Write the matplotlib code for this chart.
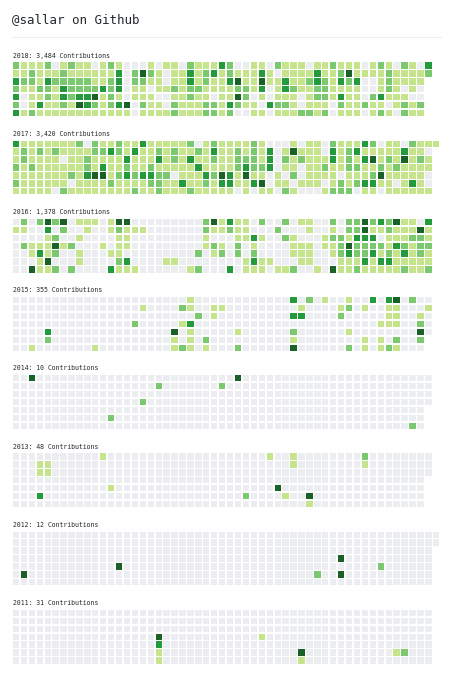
import matplotlib
matplotlib.use("Agg")
import matplotlib.pyplot as plt
from matplotlib.patches import Rectangle
from matplotlib.lines import Line2D

# ---------------- data ----------------
title = "@sallar on Github"
years = [2018, 2017, 2016, 2015, 2014, 2013, 2012, 2011]
totals = [3484, 3420, 1378, 355, 10, 48, 12, 31]
level_colors = ["#ebedf0", "#c6e48b", "#7bc96f", "#239a3b", "#196127"]

# contribution level per day (0-4), one string per weekday row, "." = no day
levels_2018 = [
    "211120121101210001011021113" "20011021110112111012102103",
    "112111211111130242101131231" "21113101111311241111211112",
    "322132222211230221101131211" "3411411311232132300121111.",
    "211221322223230110112122111" "1221301321122111100121010.",
    "301121323341210111001121101" "1420101110122131102311100.",
    "201311214321234021102111221" "3211032210111021121101212.",
    "312111111111111011112111221" "2001101112212011101210211.",
]
levels_2017 = [
    "311111112021121131111120121" "111210001011021113201102111",
    "121212111122321311212112131" "12121301411103123111113110.",
    "121111011211113111312131121" "12221302121113121341214121.",
    "212111111213112112111113111" "12322301101121122112121111.",
    "111111121344123233220111324" "31411010201111011124111110.",
    "211111101111211112211311213" "31134011011101212331101310.",
    "111110211111111211211121111" "10101102100012220110111111.",
]
levels_2016 = [
    "020242401110144000000000241" "31102002011002022423241103",
    "110030200100121110000000211" "21100020001001022411211141",
    "000012001000011000000000100" "01131002100012213330111221",
    "021114120001011000000000121" "02010000111011242222132122",
    "001312001000110000000002012" "02020000111001232231213121",
    "000140001000023000011000000" "00131100011000111313311111",
    "004112020000311100000012000" "30111011200104112111112112",
]
levels_2015 = [
    "0000000000" "0000000000" "0010000000" "0000030201" "0010030340" "200",
    "0000000000" "0000001000" "0210011000" "0000001000" "0120100110" "001",
    "0000000000" "0000000000" "0002010000" "0000033000" "0200000110" "010",
    "0000000000" "0000020000" "0130000000" "0000000000" "0000001110" "020",
    "0000300000" "0000000000" "4010000010" "0000020000" "0010000000" "040",
    "0000200000" "0000000000" "1010200000" "0000010000" "0000101020" "02.",
    "0010000000" "1000000000" "1210100020" "0000040000" "0020101210" "00.",
]
levels_2014 = [
    "0040000000" "0000000000" "0000000040" "0000000000" "0000000000" "000",
    "0000000000" "0000000020" "0000002000" "0000000000" "0000000000" "000",
    "0000000000" "0000000000" "0000000000" "0000000000" "0000000000" "000",
    "0000000000" "0000002000" "0000000000" "0000000000" "0000000000" "000",
    "0000000000" "0000000000" "0000000000" "0000000000" "0000000000" "00.",
    "0000000000" "0020000000" "0000000000" "0000000000" "0000000000" "00.",
    "0000000000" "0000000000" "0000000000" "0000000000" "0000000000" "20.",
]
levels_2013 = [
    "0000000000" "0100000000" "0000000000" "0010010000" "0000200000" "000",
    "0001100000" "0000000000" "0000000000" "0000010000" "0000100000" "000",
    "0001100000" "0000000000" "0000000000" "0000000000" "0000000000" "000",
    "0000000000" "0000000000" "0000000000" "0000000000" "0000000000" "00.",
    "0000000000" "0010000000" "0000000000" "0004000000" "0000000000" "00.",
    "0003000000" "0000000000" "0000000002" "0000100400" "0000000000" "00.",
    "0000000000" "0000000000" "0000000000" "0000000100" "0000000000" "00.",
]
levels_2012 = [
    "0000000000" "0000000000" "0000000000" "0000000000" "0000000000" "0000",
    "0000000000" "0000000000" "0000000000" "0000000000" "0000000000" "0000",
    "0000000000" "0000000000" "0000000000" "0000000000" "0000000000" "000.",
    "0000000000" "0000000000" "0000000000" "0000000000" "0400000000" "000.",
    "0000000000" "0004000000" "0000000000" "0000000000" "0000002000" "000.",
    "0400000000" "0000000000" "0000000000" "0000000020" "0400000000" "000.",
    "0000000000" "0000000000" "0000000000" "0000000000" "0000000000" "000.",
]
levels_2011 = [
    "0000000000" "0000000000" "0000000000" "0000000000" "0000000000" "000",
    "0000000000" "0000000000" "0000000000" "0000000000" "0000000000" "000",
    "0000000000" "0000000000" "0000000000" "0000000000" "0000000000" "000",
    "0000000000" "0000000040" "0000000000" "0100000000" "0000000000" "000",
    "0000000000" "0000000030" "0000000000" "0000000000" "0000000000" "000",
    "0000000000" "0000000010" "0000000000" "0000004000" "0000000012" "000",
    "0000000000" "0000000010" "0000000000" "0000001000" "0000000000" "000",
]
all_levels = [levels_2018, levels_2017, levels_2016, levels_2015,
              levels_2014, levels_2013, levels_2012, levels_2011]

# ---------------- layout ----------------
W, H = 453, 680
MONO = ["DejaVu Sans Mono"]
fig = plt.figure(figsize=(W / 100, H / 100), dpi=100)
fig.patch.set_facecolor("white")


def fx(px):
    return px / W


def fy(py):
    return 1 - py / H


fig.text(fx(12), fy(20), title, family=MONO, fontsize=9, color="#24292e",
         ha="left", va="center")
fig.add_artist(Line2D([fx(12), fx(441)], [fy(37), fy(37)],
                      transform=fig.transFigure, color="#eeeeee", lw=0.8))

pitch = 7.93
cell = 0.8
ncols = 54
for i, (yr, tot, grid) in enumerate(zip(years, totals, all_levels)):
    label_y = 55.7 + 78.2 * i
    row0_y = label_y + 9.8
    fig.text(fx(12.8), fy(label_y), f"{yr}: {tot:,} Contributions",
             family=MONO, fontsize=4.7, color="#24292e", ha="left", va="center")
    left = 16 - pitch / 2
    top = row0_y - pitch / 2
    ax = fig.add_axes([fx(left), fy(top + 7 * pitch), ncols * pitch / W, 7 * pitch / H])
    ax.set_xlim(-0.5, ncols - 0.5)
    ax.set_ylim(6.5, -0.5)
    ax.axis("off")
    for r, row in enumerate(grid):
        for c, ch in enumerate(row):
            if ch == ".":
                continue
            ax.add_patch(Rectangle((c - cell / 2, r - cell / 2), cell, cell,
                                   facecolor=level_colors[int(ch)], edgecolor="none"))

fig.savefig("out.png", dpi=100, facecolor="white")
